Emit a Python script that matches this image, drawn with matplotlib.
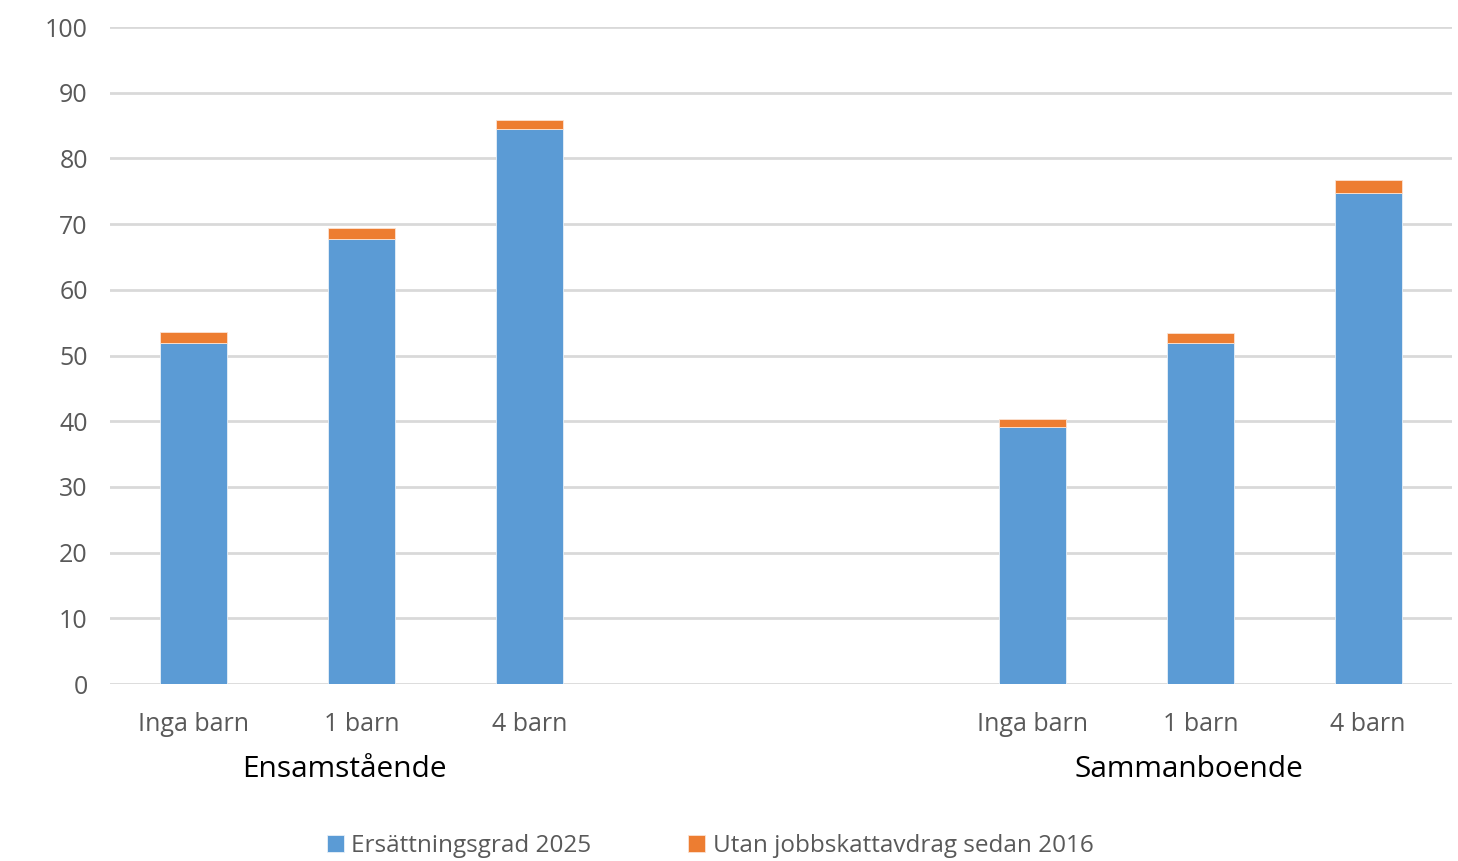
import matplotlib
matplotlib.use("Agg")
import matplotlib.pyplot as plt

# ---- data ----
GROUPS = ["Ensamstående", "Sammanboende"]
CATEGORIES = ["Inga barn", "1 barn", "4 barn"]
SLOTS = [0, 1, 2, 5, 6, 7]  # two empty slots between the groups
ERSATTNING = [51.9, 67.8, 84.4, 39.1, 51.9, 74.8]
UTAN_JOBB = [1.65, 1.65, 1.45, 1.2, 1.45, 1.85]

BLUE = "#5b9bd5"
ORANGE = "#ed7d31"
GRID = "#d9d9d9"
TXT = "#595959"

plt.rcParams["font.family"] = ["Open Sans", "DejaVu Sans"]

fig = plt.figure(figsize=(14.58, 8.61), dpi=100)
ax = fig.add_axes([110 / 1458, 1 - 684 / 861, (1452 - 110) / 1458, (684 - 27) / 861])

ax.bar(SLOTS, ERSATTNING, width=0.4, color=BLUE, edgecolor="#e8f0f8", linewidth=0.6,
       label="Ersättningsgrad 2025", zorder=3)
ax.bar(SLOTS, UTAN_JOBB, bottom=ERSATTNING, width=0.4, color=ORANGE, edgecolor="#fbe3d3",
       linewidth=0.6, label="Utan jobbskattavdrag sedan 2016", zorder=3)

ax.set_xlim(-0.5, 7.5)
ax.set_ylim(0, 100)
ax.set_yticks(range(0, 101, 10))
ax.yaxis.grid(True, color=GRID, lw=2, zorder=0)
for s in ax.spines.values():
    s.set_visible(False)
ax.tick_params(axis="y", length=0, pad=16, labelsize=18, labelcolor=TXT)
ax.tick_params(axis="x", length=0, pad=20, labelsize=18, labelcolor=TXT)
ax.set_xticks(SLOTS)
ax.set_xticklabels(CATEGORIES * 2)

# group labels under the category labels
for name, xc in zip(GROUPS, [0.9, 5.93]):
    ax.text(xc, -0.13, name, transform=ax.get_xaxis_transform(), ha="center", va="center",
            fontsize=21.5, color="black")

fig.legend(loc="center", bbox_to_anchor=(710 / 1458, 1 - 846 / 861), ncol=2, frameon=False,
           fontsize=17.5, labelcolor=TXT, handlelength=0.7, handleheight=0.7, handletextpad=0.3,
           columnspacing=4.0)

fig.savefig("out.png", dpi=100)
